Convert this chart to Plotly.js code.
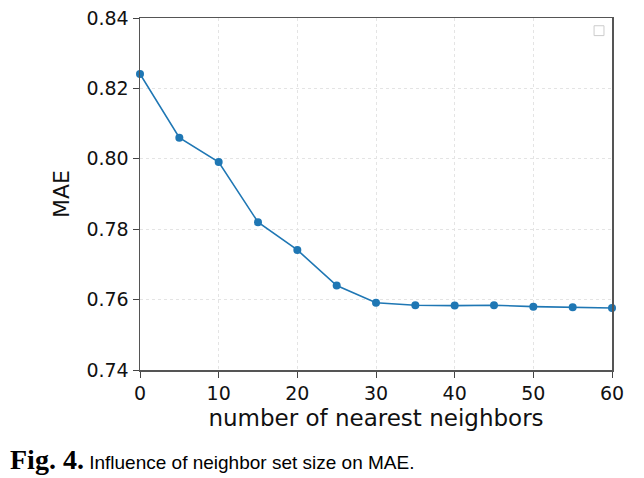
<!DOCTYPE html>
<html><head><meta charset="utf-8">
<script src="https://cdn.plot.ly/plotly-3.0.1.min.js"></script>
<style>html,body{margin:0;padding:0;background:#fff}#c{width:644px;height:478px}</style>
</head><body><div id="c"></div>
<script>
const neighbors = [0, 5, 10, 15, 20, 25, 30, 35, 40, 45, 50, 55, 60];
const mae = [0.8241, 0.8060, 0.7991, 0.7820, 0.7741, 0.7640, 0.7591, 0.7584, 0.7583, 0.7584, 0.7580, 0.7578, 0.7576];
const xTicks = [0, 10, 20, 30, 40, 50, 60];
const yTicks = [0.74, 0.76, 0.78, 0.80, 0.82, 0.84];

const trace = {
  x: neighbors, y: mae, type: 'scatter', mode: 'lines+markers',
  line: {color: '#1f77b4', width: 1.6},
  marker: {color: '#1f77b4', size: 8},
  cliponaxis: false, showlegend: false
};
const tickFont = {family: 'DejaVu Sans', size: 19, color: '#111'};
const layout = {
  width: 644, height: 478,
  margin: {l: 140, r: 32, t: 18, b: 108},
  paper_bgcolor: '#fff', plot_bgcolor: '#fff',
  showlegend: false,
  xaxis: {
    range: [0, 60], tickvals: xTicks, ticktext: xTicks.map(String),
    ticks: 'outside', ticklen: 6, tickcolor: '#444', tickwidth: 1,
    showline: true, linecolor: '#555', linewidth: 1.5, mirror: true,
    showgrid: true, gridcolor: '#e4e4e4', griddash: 'dot', gridwidth: 1,
    zeroline: false, tickfont: tickFont,
    title: {text: 'number of nearest neighbors', font: {family: 'DejaVu Sans', size: 23, color: '#111'}, standoff: 6}
  },
  yaxis: {
    range: [0.74, 0.84], tickvals: yTicks, ticktext: yTicks.map(v => v.toFixed(2)),
    ticks: 'outside', ticklen: 6, tickcolor: '#444', tickwidth: 1,
    showline: true, linecolor: '#555', linewidth: 1.5, mirror: true,
    showgrid: true, gridcolor: '#e4e4e4', griddash: 'dot', gridwidth: 1,
    zeroline: false, tickfont: tickFont,
    title: {text: 'MAE', font: {family: 'DejaVu Sans', size: 22, color: '#111'}, standoff: 10}
  },
  shapes: [{
    type: 'rect', xref: 'paper', yref: 'paper',
    x0: 0.962, x1: 0.983, y0: 0.95, y1: 0.978,
    line: {color: '#ccc', width: 1}, fillcolor: 'rgba(0,0,0,0)'
  }],
  annotations: [{
    xref: 'paper', yref: 'paper', x: -0.279, y: -0.255, xanchor: 'left', yanchor: 'middle',
    showarrow: false, align: 'left',
    text: '<span style="font-family:Liberation Serif;font-size:28px;font-weight:bold">Fig. 4.</span> <span style="font-family:Liberation Sans Narrow,Liberation Sans;font-size:19px">Influence of neighbor set size on MAE.</span>',
    font: {color: '#000', family: 'Liberation Sans', size: 19}
  }]
};
Plotly.newPlot('c', [trace], layout, {displayModeBar: false, staticPlot: true});
</script></body></html>
